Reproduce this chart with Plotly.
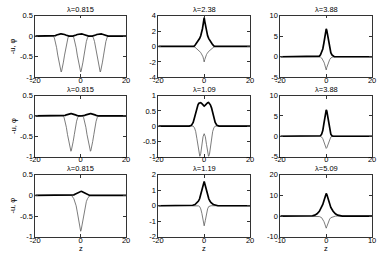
import plotly.graph_objects as go

# ---------------- data ----------------
titles = ["λ=0.815", "λ=2.38", "λ=3.88",
          "λ=0.815", "λ=1.09", "λ=3.88",
          "λ=0.815", "λ=1.19", "λ=5.09"]

# panel 1 : three solitons
z1 = [-20, -12.1, -11.6, -11.1, -10.6, -10.1, -9.6, -9.1, -8.8, -8.6, -8.4, -8.1, -7.6, -7.1, -6.6, -6.1, -5.6, -5.1,
      -3.5, -3.0, -2.5, -2.0, -1.5, -1.0, -0.5, -0.2, 0.0, 0.2, 0.5, 1.0, 1.5, 2.0, 2.5, 3.0, 3.5,
      5.1, 5.6, 6.1, 6.6, 7.1, 7.6, 8.1, 8.4, 8.6, 8.8, 9.1, 9.6, 10.1, 10.6, 11.1, 11.6, 12.1, 20]
negu1 = [0, 0, -0.04, -0.13, -0.28, -0.46, -0.63, -0.78, -0.85, -0.87, -0.85, -0.78, -0.63, -0.46, -0.28, -0.13, -0.04, 0,
         0, -0.04, -0.13, -0.28, -0.46, -0.63, -0.78, -0.85, -0.87, -0.85, -0.78, -0.63, -0.46, -0.28, -0.13, -0.04, 0,
         0, -0.04, -0.13, -0.28, -0.46, -0.63, -0.78, -0.85, -0.87, -0.85, -0.78, -0.63, -0.46, -0.28, -0.13, -0.04, 0, 0]
phi1 = [0, 0, 0.005, 0.015, 0.028, 0.04, 0.048, 0.054, 0.056, 0.056, 0.056, 0.054, 0.048, 0.04, 0.028, 0.015, 0.005, 0,
        0, 0.005, 0.015, 0.028, 0.04, 0.048, 0.054, 0.056, 0.056, 0.056, 0.054, 0.048, 0.04, 0.028, 0.015, 0.005, 0,
        0, 0.005, 0.015, 0.028, 0.04, 0.048, 0.054, 0.056, 0.056, 0.056, 0.054, 0.048, 0.04, 0.028, 0.015, 0.005, 0, 0]

# panel 2
z2 = [-20, -4.5, -4, -3.5, -3, -2.5, -2, -1.5, -1.2, -1, -0.75, -0.5, -0.25, 0,
      0.25, 0.5, 0.75, 1, 1.2, 1.5, 2, 2.5, 3, 3.5, 4, 4.5, 20]
phi2 = [0, 0, 0.15, 0.33, 0.52, 0.75, 1.02, 1.38, 1.65, 1.9, 2.3, 2.75, 3.25, 3.75,
        3.25, 2.75, 2.3, 1.9, 1.65, 1.38, 1.02, 0.75, 0.52, 0.33, 0.15, 0, 0]
negu2 = [0, 0, -0.1, -0.22, -0.36, -0.5, -0.62, -0.78, -0.95, -1.05, -1.15, -1.35, -1.7, -2.0,
         -1.7, -1.35, -1.15, -1.05, -0.95, -0.78, -0.62, -0.5, -0.36, -0.22, -0.1, 0, 0]

# panel 3
z3 = [-20, -3.5, -3, -2.5, -2, -1.5, -1, -0.75, -0.5, -0.25, 0, 0.25, 0.5, 0.75, 1, 1.5, 2, 2.5, 3, 3.5, 20]
phi3 = [0, 0, 0.15, 0.45, 1.0, 1.9, 3.4, 4.4, 5.5, 6.4, 6.8, 6.4, 5.5, 4.4, 3.4, 1.9, 1.0, 0.45, 0.15, 0, 0]
negu3 = [0, 0, 0, -0.08, -0.3, -0.7, -1.3, -1.7, -2.1, -2.6, -3.2, -2.6, -2.1, -1.7, -1.3, -0.7, -0.3, -0.08, 0, 0, 0]

# panel 4 : two solitons
z4 = [-20, -7.8, -7.3, -6.8, -6.3, -5.8, -5.3, -4.8, -4.5, -4.3, -4.1, -3.8, -3.3, -2.8, -2.3, -1.8, -1.3, -0.8,
      0.0, 0.8, 1.3, 1.8, 2.3, 2.8, 3.3, 3.8, 4.1, 4.3, 4.5, 4.8, 5.3, 5.8, 6.3, 6.8, 7.3, 7.8, 20]
negu4 = [0, 0, -0.04, -0.13, -0.28, -0.46, -0.63, -0.78, -0.85, -0.87, -0.85, -0.78, -0.63, -0.46, -0.28, -0.13, -0.04, 0,
         0, 0, -0.04, -0.13, -0.28, -0.46, -0.63, -0.78, -0.85, -0.87, -0.85, -0.78, -0.63, -0.46, -0.28, -0.13, -0.04, 0, 0]
phi4 = [0, 0, 0.005, 0.015, 0.028, 0.04, 0.048, 0.054, 0.056, 0.056, 0.056, 0.054, 0.048, 0.04, 0.028, 0.015, 0.005, 0,
        0, 0, 0.005, 0.015, 0.028, 0.04, 0.048, 0.054, 0.056, 0.056, 0.056, 0.054, 0.048, 0.04, 0.028, 0.015, 0.005, 0, 0]

# panel 5
z5 = [-20, -6.5, -5.5, -4.8, -4.2, -3.7, -3.2, -2.7, -2.3, -1.9, -1.5, -1, -0.5, 0,
      0.5, 1, 1.5, 1.9, 2.3, 2.7, 3.2, 3.7, 4.2, 4.8, 5.5, 6.5, 20]
phi5 = [0, 0, 0.03, 0.12, 0.28, 0.45, 0.6, 0.7, 0.75, 0.775, 0.77, 0.74, 0.69, 0.66,
        0.69, 0.74, 0.77, 0.775, 0.75, 0.7, 0.6, 0.45, 0.28, 0.12, 0.03, 0, 0]
negu5 = [0, 0, 0, 0, -0.06, -0.18, -0.4, -0.7, -0.93, -1.0, -0.9, -0.6, -0.35, -0.25,
         -0.35, -0.6, -0.9, -1.0, -0.93, -0.7, -0.4, -0.18, -0.06, 0, 0, 0, 0]

# panel 6
z6 = [-20, -3, -2.5, -2, -1.5, -1, -0.75, -0.5, -0.25, 0, 0.25, 0.5, 0.75, 1, 1.5, 2, 2.5, 3, 20]
phi6 = [0, 0, 0.12, 0.5, 1.4, 3.2, 4.3, 5.4, 6.2, 6.5, 6.2, 5.4, 4.3, 3.2, 1.4, 0.5, 0.12, 0, 0]
negu6 = [0, 0, -0.04, -0.2, -0.6, -1.4, -1.9, -2.4, -2.85, -3.0, -2.85, -2.4, -1.9, -1.4, -0.6, -0.2, -0.04, 0, 0]

# panel 7 : one soliton
z7 = [-20, -4, -3, -2.5, -2, -1.5, -1, -0.5, -0.2, 0, 0.2, 0.5, 1, 1.5, 2, 2.5, 3, 4, 20]
negu7 = [0, 0, -0.08, -0.15, -0.25, -0.4, -0.58, -0.75, -0.84, -0.87, -0.84, -0.75, -0.58, -0.4, -0.25, -0.15, -0.08, 0, 0]
phi7 = [0, 0, 0.015, 0.03, 0.045, 0.062, 0.08, 0.094, 0.1, 0.102, 0.1, 0.094, 0.08, 0.062, 0.045, 0.03, 0.015, 0, 0]

# panel 8
z8 = [-20, -6, -5, -4, -3, -2.5, -2, -1.5, -1, -0.5, 0, 0.5, 1, 1.5, 2, 2.5, 3, 4, 5, 6, 20]
phi8 = [0, 0, 0.03, 0.08, 0.2, 0.3, 0.45, 0.7, 1.0, 1.3, 1.57, 1.3, 1.0, 0.7, 0.45, 0.3, 0.2, 0.08, 0.03, 0, 0]
negu8 = [0, 0, 0, 0, 0, -0.01, -0.05, -0.2, -0.5, -0.95, -1.3, -0.95, -0.5, -0.2, -0.05, -0.01, 0, 0, 0, 0, 0]

# panel 9
z9 = [-10, -3.5, -3, -2.5, -2, -1.5, -1, -0.75, -0.5, -0.3, -0.15, 0,
      0.15, 0.3, 0.5, 0.75, 1, 1.5, 2, 2.5, 3, 3.5, 10]
phi9 = [0, 0, 0.15, 0.45, 1.1, 2.3, 4.2, 5.6, 7.4, 9.0, 10.3, 11.0,
        10.3, 9.0, 7.4, 5.6, 4.2, 2.3, 1.1, 0.45, 0.15, 0, 0]
negu9 = [0, 0, 0, 0, -0.05, -0.25, -0.8, -1.5, -2.7, -3.9, -5.0, -5.9,
         -5.0, -3.9, -2.7, -1.5, -0.8, -0.25, -0.05, 0, 0, 0, 0]

zs = [z1, z2, z3, z4, z5, z6, z7, z8, z9]
phis = [phi1, phi2, phi3, phi4, phi5, phi6, phi7, phi8, phi9]
negus = [negu1, negu2, negu3, negu4, negu5, negu6, negu7, negu8, negu9]

yranges = [[-1, 0.5], [-4, 4], [-5, 10],
           [-1, 0.5], [-1, 1], [-5, 10],
           [-1, 0.5], [-2, 2], [-10, 20]]
yticks = [[-1, -0.5, 0, 0.5], [-4, -2, 0, 2, 4], [-5, 0, 5, 10],
          [-1, -0.5, 0, 0.5], [-1, -0.5, 0, 0.5, 1], [-5, 0, 5, 10],
          [-1, -0.5, 0, 0.5], [-2, -1, 0, 1, 2], [-10, 0, 10, 20]]
ytick_labels = [["-1", "-0.5", "0", "0.5"], ["-4", "-2", "0", "2", "4"], ["-5", "0", "5", "10"],
                ["-1", "-0.5", "0", "0.5"], ["-1", "-0.5", "0", "0.5", "1"], ["-5", "0", "5", "10"],
                ["-1", "-0.5", "0", "0.5"], ["-2", "-1", "0", "1", "2"], ["-10", "0", "10", "20"]]
xranges = [[-20, 20]] * 8 + [[-10, 10]]
xticks = [[-20, 0, 20]] * 8 + [[-10, 0, 10]]
xtick_labels = [["-20", "0", "20"]] * 8 + [["-10", "0", "10"]]

ylabel = "-u, φ"
xlabel = "z"

# ---------------- layout ----------------
W, H = 381, 259
col_px = [(31, 124), (157, 251), (282, 376)]
row_px = [(12, 76), (95, 158), (177, 241)]
FONT = "Liberation Sans"
FS = 7.5

fig = go.Figure()
layout = dict(width=W, height=H, margin=dict(l=0, r=0, t=0, b=0),
              paper_bgcolor="white", plot_bgcolor="white", showlegend=False,
              font=dict(family=FONT, size=FS, color="black"))
annotations = []

for i in range(9):
    r, c = divmod(i, 3)
    xa = "x" if i == 0 else f"x{i+1}"
    ya = "y" if i == 0 else f"y{i+1}"
    fig.add_trace(go.Scatter(x=zs[i], y=negus[i], mode="lines", xaxis=xa, yaxis=ya,
                             line=dict(color="#5a5a5a", width=0.8), hoverinfo="skip"))
    fig.add_trace(go.Scatter(x=zs[i], y=phis[i], mode="lines", xaxis=xa, yaxis=ya,
                             line=dict(color="black", width=1.7), hoverinfo="skip"))
    x0, x1 = col_px[c]
    y0, y1 = row_px[r]
    xd = [x0 / W, x1 / W]
    yd = [1 - y1 / H, 1 - y0 / H]
    common = dict(showgrid=False, zeroline=False, showline=True, linecolor="#333",
                  linewidth=0.8, mirror="ticks", ticks="inside", ticklen=3,
                  tickcolor="#333", tickwidth=0.8,
                  tickfont=dict(family=FONT, size=FS, color="black"))
    layout["xaxis" if i == 0 else f"xaxis{i+1}"] = dict(
        domain=xd, range=xranges[i], tickvals=xticks[i], ticktext=xtick_labels[i],
        anchor=ya, ticklabelstandoff=-4, **common)
    layout["yaxis" if i == 0 else f"yaxis{i+1}"] = dict(
        domain=yd, range=yranges[i], tickvals=yticks[i], ticktext=ytick_labels[i],
        anchor=xa, **common)
    annotations.append(dict(text=titles[i], xref="paper", yref="paper",
                            x=(xd[0] + xd[1]) / 2, y=yd[1], xanchor="center", yanchor="bottom",
                            yshift=0, showarrow=False, font=dict(family=FONT, size=FS)))

for r in range(3):
    y0, y1 = row_px[r]
    annotations.append(dict(text=ylabel, xref="paper", yref="paper",
                            x=8 / W, y=1 - (y0 + y1) / 2 / H, xanchor="center", yanchor="middle",
                            textangle=-90, showarrow=False, font=dict(family=FONT, size=FS)))
for c in range(3):
    x0, x1 = col_px[c]
    annotations.append(dict(text=xlabel, xref="paper", yref="paper",
                            x=(x0 + x1) / 2 / W, y=1 - 253 / H, xanchor="center", yanchor="middle",
                            showarrow=False, font=dict(family=FONT, size=FS)))

layout["annotations"] = annotations
fig.update_layout(**layout)
fig.write_html("out.html", config={"displayModeBar": False},
               post_script="document.body.style.margin='0';document.body.style.padding='0';")
